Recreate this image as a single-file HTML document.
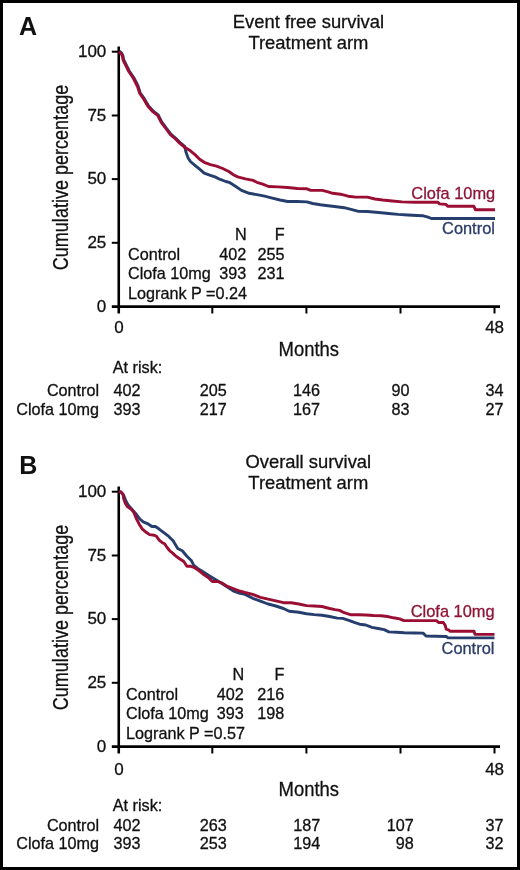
<!DOCTYPE html>
<html><head><meta charset="utf-8"><style>
html,body{margin:0;padding:0;background:#fff;}
body{width:520px;height:870px;overflow:hidden;position:relative;}
svg{position:absolute;left:0;top:0;will-change:transform;}
text{font-family:"Liberation Sans",sans-serif;fill:#111;stroke:currentColor;stroke-width:0.3px;} svg{color:#111;}
.tk{font-size:17px;}
.tt{font-size:18.4px;}
.lg{font-size:16.2px;}
.rl{font-size:16.4px;}
.ax{font-size:20.5px;}
.ax2{font-size:22px;}
.bold{font-size:25px;font-weight:bold;stroke-width:0;}
</style></head><body>
<svg width="520" height="870" viewBox="0 0 520 870">
<rect x="1.5" y="1.5" width="517" height="867" fill="#fff" stroke="#000" stroke-width="3"/>
<text x="19" y="34.6" class="bold">A</text>
<text x="19.2" y="474.1" class="bold">B</text>
<g transform="translate(0,0)">
<line x1="118.75" y1="46.5" x2="118.75" y2="313.5" stroke="#000" stroke-width="2.6"/>
<line x1="111.8" y1="306.6" x2="500" y2="306.6" stroke="#000" stroke-width="2.6"/>
<line x1="111.8" y1="51.7" x2="118.75" y2="51.7" stroke="#000" stroke-width="2"/>
<line x1="111.8" y1="115.5" x2="118.75" y2="115.5" stroke="#000" stroke-width="2"/>
<line x1="111.8" y1="179.1" x2="118.75" y2="179.1" stroke="#000" stroke-width="2"/>
<line x1="111.8" y1="242.8" x2="118.75" y2="242.8" stroke="#000" stroke-width="2"/>
<line x1="212.3" y1="306.6" x2="212.3" y2="313.5" stroke="#000" stroke-width="2"/>
<line x1="306.4" y1="306.6" x2="306.4" y2="313.5" stroke="#000" stroke-width="2"/>
<line x1="400.5" y1="306.6" x2="400.5" y2="313.5" stroke="#000" stroke-width="2"/>
<line x1="494.5" y1="306.6" x2="494.5" y2="313.5" stroke="#000" stroke-width="2"/>
<text x="106.3" y="57.0" text-anchor="end" class="tk">100</text>
<text x="106.3" y="120.8" text-anchor="end" class="tk">75</text>
<text x="106.3" y="184.4" text-anchor="end" class="tk">50</text>
<text x="106.3" y="248.10000000000002" text-anchor="end" class="tk">25</text>
<text x="106.3" y="311.8" text-anchor="end" class="tk">0</text>
<text x="119" y="332.6" text-anchor="middle" class="tk">0</text>
<text x="494.6" y="332.6" text-anchor="middle" class="tk">48</text>
<text x="308.8" y="356.5" text-anchor="middle" class="ax" transform="translate(308.8,0) scale(0.9,1) translate(-308.8,0)">Months</text>
<text class="ax2" text-anchor="middle" transform="translate(68,177.5) rotate(-90) scale(0.82,1)">Cumulative percentage</text>
<text x="308.4" y="27.8" text-anchor="middle" class="tt">Event free survival</text>
<text x="308.4" y="48.7" text-anchor="middle" class="tt">Treatment arm</text>
</g>
<g transform="translate(0,440)">
<line x1="118.75" y1="46.5" x2="118.75" y2="313.5" stroke="#000" stroke-width="2.6"/>
<line x1="111.8" y1="306.6" x2="500" y2="306.6" stroke="#000" stroke-width="2.6"/>
<line x1="111.8" y1="51.7" x2="118.75" y2="51.7" stroke="#000" stroke-width="2"/>
<line x1="111.8" y1="115.5" x2="118.75" y2="115.5" stroke="#000" stroke-width="2"/>
<line x1="111.8" y1="179.1" x2="118.75" y2="179.1" stroke="#000" stroke-width="2"/>
<line x1="111.8" y1="242.8" x2="118.75" y2="242.8" stroke="#000" stroke-width="2"/>
<line x1="212.3" y1="306.6" x2="212.3" y2="313.5" stroke="#000" stroke-width="2"/>
<line x1="306.4" y1="306.6" x2="306.4" y2="313.5" stroke="#000" stroke-width="2"/>
<line x1="400.5" y1="306.6" x2="400.5" y2="313.5" stroke="#000" stroke-width="2"/>
<line x1="494.5" y1="306.6" x2="494.5" y2="313.5" stroke="#000" stroke-width="2"/>
<text x="106.3" y="57.0" text-anchor="end" class="tk">100</text>
<text x="106.3" y="120.8" text-anchor="end" class="tk">75</text>
<text x="106.3" y="184.4" text-anchor="end" class="tk">50</text>
<text x="106.3" y="248.10000000000002" text-anchor="end" class="tk">25</text>
<text x="106.3" y="311.8" text-anchor="end" class="tk">0</text>
<text x="119" y="334.8" text-anchor="middle" class="tk">0</text>
<text x="494.6" y="334.8" text-anchor="middle" class="tk">48</text>
<text x="308.8" y="356.5" text-anchor="middle" class="ax" transform="translate(308.8,0) scale(0.9,1) translate(-308.8,0)">Months</text>
<text class="ax2" text-anchor="middle" transform="translate(68,177.5) rotate(-90) scale(0.82,1)">Cumulative percentage</text>
<text x="308.3" y="27.8" text-anchor="middle" class="tt">Overall survival</text>
<text x="308.3" y="48.7" text-anchor="middle" class="tt">Treatment arm</text>
</g>
<polyline points="119.2,51.2 121.8,53.2 123.0,56.0 123.6,59.5 126.5,65.3 129.3,71.0 134.0,78.0 138.0,86.0 140.3,93.0 144.3,98.7 148.4,105.7 153.6,111.4 158.2,114.9 161.7,121.8 166.3,128.0 170.9,134.1 175.5,138.0 180.1,142.6 184.7,146.4 185.8,151.5 188.0,157.7 190.4,161.5 195.0,165.4 199.6,169.2 204.2,173.1 210.4,175.4 215.0,176.9 219.6,179.2 225.8,181.5 230.0,182.7 235.8,186.5 241.5,190.4 249.2,193.3 256.9,194.6 264.6,196.2 272.3,198.1 280.0,200.0 287.7,201.5 297.3,201.5 306.9,201.9 312.7,203.5 320.4,204.8 326.0,205.5 334.6,206.5 344.2,207.7 351.9,209.6 357.7,211.2 367.3,211.5 378.8,212.5 388.5,213.5 398.1,214.4 407.7,215.0 417.0,215.5 423.2,215.8 428.1,217.2 431.3,218.5 495.0,218.5" fill="none" stroke="#263E6E" stroke-width="2.9" stroke-linejoin="round"/>
<polyline points="118.8,51.7 121.3,53.7 122.5,56.5 123.1,60.0 126.0,65.8 128.8,71.5 133.5,78.5 137.5,86.5 139.8,93.5 143.8,99.2 147.9,106.2 153.1,111.9 157.7,115.4 161.2,122.3 165.8,128.5 170.4,134.6 175.0,138.5 179.6,143.1 184.2,146.9 190.4,150.8 195.0,154.6 199.6,159.2 204.2,162.3 210.4,164.6 216.5,166.2 222.7,168.5 228.8,171.5 233.8,175.0 237.7,176.9 245.4,178.8 253.1,180.4 256.9,182.3 262.7,184.2 268.5,186.5 278.1,186.9 287.7,187.5 297.3,188.5 306.9,188.8 310.8,190.4 322.3,190.4 328.1,191.9 332.7,193.3 340.4,194.2 348.1,196.2 355.8,197.1 367.3,197.1 375.0,199.0 382.7,200.0 392.3,201.0 401.9,201.9 415.0,202.3 437.9,202.3 439.5,203.9 446.0,204.4 447.7,206.2 473.8,206.2 475.5,209.8 495.0,209.8" fill="none" stroke="#9B0E33" stroke-width="2.9" stroke-linejoin="round"/>
<polyline points="118.8,491.7 120.8,491.9 123.7,495.4 126.0,501.2 128.3,505.2 132.3,509.8 136.9,515.0 139.8,519.0 143.3,521.9 148.5,524.2 151.9,526.5 155.4,526.5 158.8,528.8 163.5,532.3 168.1,535.8 170.0,537.7 173.1,540.8 177.7,548.5 182.3,550.8 186.9,556.2 191.5,560.8 193.8,565.4 197.7,568.5 203.8,572.3 210.0,576.2 216.2,580.0 222.3,583.8 228.5,587.7 233.1,590.8 239.2,593.1 245.0,594.4 252.7,598.3 260.4,601.2 268.1,604.0 275.8,606.0 283.5,608.5 289.2,611.2 298.8,612.3 306.5,613.7 314.2,614.6 321.9,615.2 329.6,616.5 337.3,618.1 342.7,618.4 348.8,620.4 355.0,622.7 359.6,624.2 365.8,625.0 371.9,627.3 378.1,628.5 384.2,629.6 388.8,631.9 396.5,632.2 404.2,632.7 415.0,633.0 423.1,633.1 426.0,636.0 446.2,636.5 448.0,637.9 494.5,637.9" fill="none" stroke="#263E6E" stroke-width="2.9" stroke-linejoin="round"/>
<polyline points="118.8,491.7 120.8,491.9 123.1,494.2 123.7,498.8 125.4,503.5 127.7,506.9 131.2,509.2 134.0,512.7 136.3,518.5 139.2,524.2 142.1,528.8 146.2,532.3 149.6,534.6 154.2,535.2 156.5,536.3 159.4,540.4 162.3,542.7 164.6,543.8 166.9,547.3 169.8,550.8 172.7,553.1 175.0,555.4 179.2,558.5 183.8,561.5 186.9,566.2 190.0,566.2 194.6,567.7 199.2,570.8 203.8,574.6 208.5,577.7 212.3,581.5 217.7,581.5 222.3,583.1 226.9,586.2 233.1,588.5 239.2,590.8 245.0,592.5 252.7,594.4 260.4,597.3 268.1,599.2 275.8,600.8 283.5,602.7 291.2,602.7 298.8,604.0 306.5,605.6 314.2,606.0 321.9,606.5 329.6,608.5 335.0,609.6 339.6,610.4 344.2,612.7 350.4,614.7 358.1,614.7 365.8,615.0 373.5,615.5 381.2,615.8 387.3,616.5 393.5,617.8 399.6,618.9 403.8,620.6 436.5,620.6 438.5,622.5 443.3,622.5 445.2,625.4 446.2,629.2 449.0,630.2 450.0,631.2 474.0,631.2 475.0,634.4 494.5,634.4" fill="none" stroke="#9B0E33" stroke-width="2.9" stroke-linejoin="round"/>
<!-- legend A -->
<g class="lg">
<text x="246.8" y="240.4" text-anchor="end" class="lg">N</text>
<text x="284.6" y="240.4" text-anchor="end" class="lg">F</text>
<text x="128" y="259.8" class="lg">Control</text>
<text x="246.3" y="259.8" text-anchor="end" class="lg">402</text>
<text x="284.6" y="259.8" text-anchor="end" class="lg">255</text>
<text x="128" y="279.2" class="lg">Clofa 10mg</text>
<text x="246.3" y="279.2" text-anchor="end" class="lg">393</text>
<text x="284.6" y="279.2" text-anchor="end" class="lg">231</text>
<text x="128" y="298.5" class="lg">Logrank P =0.24</text>
<text x="495.2" y="198.5" text-anchor="end" class="lg rl" style="fill:#8E1636;stroke:#8E1636">Clofa 10mg</text>
<text x="494.9" y="233.6" text-anchor="end" class="lg rl" style="fill:#2B3C68;stroke:#2B3C68">Control</text>
<!-- at risk A -->
<text x="112.8" y="373.2" class="lg">At risk:</text>
<text x="99.1" y="395.5" text-anchor="end" class="lg">Control</text>
<text x="99.1" y="414.8" text-anchor="end" class="lg">Clofa 10mg</text>
<text x="113.6" y="395.5" class="lg">402</text><text x="113.6" y="414.8" class="lg">393</text>
<text x="199.7" y="395.5" class="lg">205</text><text x="199.7" y="414.8" class="lg">217</text>
<text x="292.9" y="395.5" class="lg">146</text><text x="292.9" y="414.8" class="lg">167</text>
<text x="391.4" y="395.5" class="lg">90</text><text x="391.4" y="414.8" class="lg">83</text>
<text x="485.6" y="395.5" class="lg">34</text><text x="485.6" y="414.8" class="lg">27</text>
<!-- legend B -->
<text x="244.3" y="680.4" text-anchor="end" class="lg">N</text>
<text x="284.3" y="680.4" text-anchor="end" class="lg">F</text>
<text x="126" y="699.8" class="lg">Control</text>
<text x="243.8" y="699.8" text-anchor="end" class="lg">402</text>
<text x="284.3" y="699.8" text-anchor="end" class="lg">216</text>
<text x="126" y="719.2" class="lg">Clofa 10mg</text>
<text x="243.8" y="719.2" text-anchor="end" class="lg">393</text>
<text x="284.3" y="719.2" text-anchor="end" class="lg">198</text>
<text x="126" y="738.5" class="lg">Logrank P =0.57</text>
<text x="494.6" y="616.9" text-anchor="end" class="lg rl" style="fill:#8E1636;stroke:#8E1636">Clofa 10mg</text>
<text x="494.4" y="654" text-anchor="end" class="lg rl" style="fill:#2B3C68;stroke:#2B3C68">Control</text>
<!-- at risk B -->
<text x="112.8" y="811.3" class="lg">At risk:</text>
<text x="99.1" y="830.6" text-anchor="end" class="lg">Control</text>
<text x="99.1" y="848.8" text-anchor="end" class="lg">Clofa 10mg</text>
<text x="113.6" y="830.6" class="lg">402</text><text x="113.6" y="848.8" class="lg">393</text>
<text x="199.7" y="830.6" class="lg">263</text><text x="199.7" y="848.8" class="lg">253</text>
<text x="293.3" y="830.6" class="lg">187</text><text x="293.3" y="848.8" class="lg">194</text>
<text x="413.8" y="830.6" text-anchor="end" class="lg">107</text><text x="413.8" y="848.8" text-anchor="end" class="lg">98</text>
<text x="485.6" y="830.6" class="lg">37</text><text x="485.6" y="848.8" class="lg">32</text>
</g>
</svg>
</body></html>
